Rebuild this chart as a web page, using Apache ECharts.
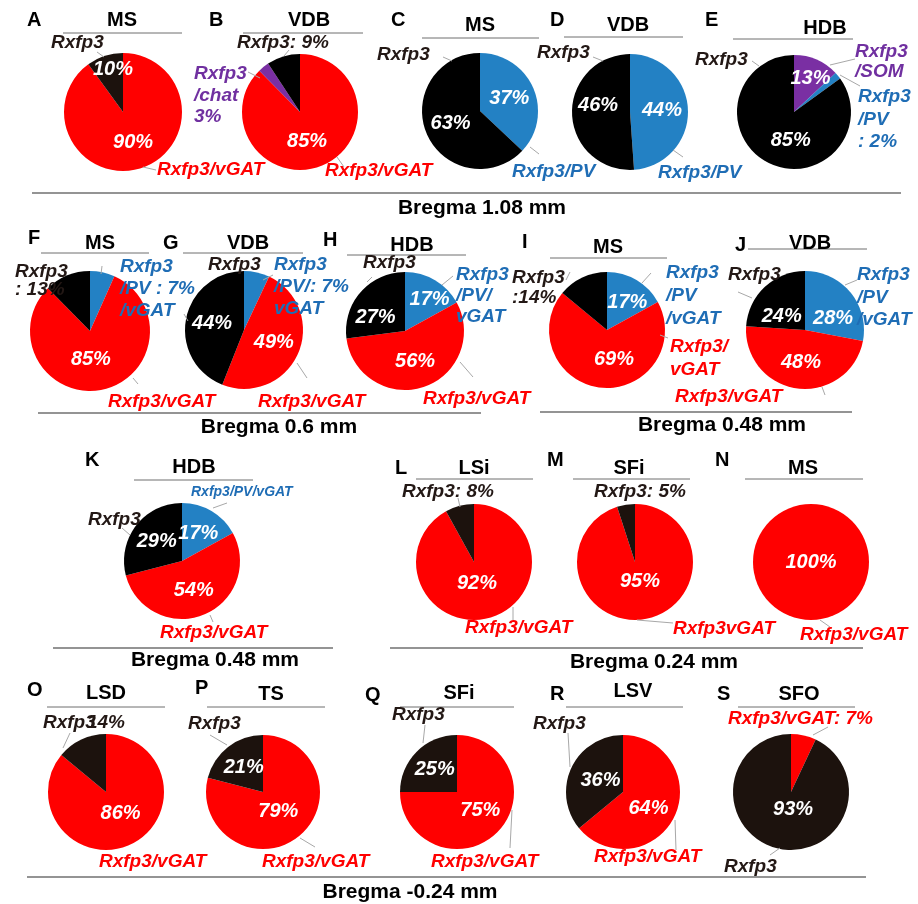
<!DOCTYPE html>
<html>
<head>
<meta charset="utf-8">
<script src="https://cdn.jsdelivr.net/npm/echarts@6/dist/echarts.min.js"></script>
<style>
  html, body { margin: 0; padding: 0; background: #ffffff; }
  #chart { width: 918px; height: 904px; }
</style>
</head>
<body>
<div id="chart"></div>
<script>
// ---- data -------------------------------------------------------------
const panelLetters = ['A','B','C','D','E','F','G','H','I','J','K','L','M','N','O','P','Q','R','S'];
const regionTitles = ['MS','VDB','MS','VDB','HDB','MS','VDB','HDB','MS','VDB','HDB','LSi','SFi','MS','LSD','TS','SFi','LSV','SFO'];
const sliceNames = [
  ['Rxfp3/vGAT','Rxfp3'],
  ['Rxfp3/vGAT','Rxfp3/chat','Rxfp3'],
  ['Rxfp3/PV','Rxfp3'],
  ['Rxfp3/PV','Rxfp3'],
  ['Rxfp3/SOM','Rxfp3/PV','Rxfp3'],
  ['Rxfp3/PV/vGAT','Rxfp3/vGAT','Rxfp3'],
  ['Rxfp3/PV/vGAT','Rxfp3/vGAT','Rxfp3'],
  ['Rxfp3/PV/vGAT','Rxfp3/vGAT','Rxfp3'],
  ['Rxfp3/PV/vGAT','Rxfp3/vGAT','Rxfp3'],
  ['Rxfp3/PV/vGAT','Rxfp3/vGAT','Rxfp3'],
  ['Rxfp3/PV/vGAT','Rxfp3/vGAT','Rxfp3'],
  ['Rxfp3/vGAT','Rxfp3'],
  ['Rxfp3/vGAT','Rxfp3'],
  ['Rxfp3/vGAT'],
  ['Rxfp3/vGAT','Rxfp3'],
  ['Rxfp3/vGAT','Rxfp3'],
  ['Rxfp3/vGAT','Rxfp3'],
  ['Rxfp3/vGAT','Rxfp3'],
  ['Rxfp3/vGAT','Rxfp3']
];
const pieValues = [
  [90, 10],
  [85, 3, 9],
  [37, 63],
  [44, 46],
  [13, 2, 85],
  [7, 85, 13],
  [7, 49, 44],
  [17, 56, 27],
  [17, 69, 14],
  [28, 48, 24],
  [17, 54, 29],
  [92, 8],
  [95, 5],
  [100],
  [86, 14],
  [79, 21],
  [75, 25],
  [64, 36],
  [7, 93]
];
const bregmaLabels = ['Bregma 1.08 mm','Bregma 0.6 mm','Bregma 0.48 mm','Bregma 0.48 mm','Bregma 0.24 mm','Bregma -0.24 mm'];

// ---- styling ----------------------------------------------------------
const FONT = '"Liberation Sans", Arial, Helvetica, sans-serif';
const RED = '#ff0000', BLUE = '#2381c4', PURPLE = '#7a2fa3', BLACK = '#000000', BROWN = '#1c120d';
const TEXT_DARK = '#231815', TEXT_BLUE = '#1f6db5', TEXT_PURPLE = '#7030a0';

function sliceColor(name, dark) {
  if (name === 'Rxfp3') return dark;
  if (name === 'Rxfp3/vGAT') return RED;
  if (name.indexOf('PV') >= 0) return BLUE;
  return PURPLE;
}
function textColor(name) {
  if (name === 'Rxfp3') return TEXT_DARK;
  if (name === 'Rxfp3/vGAT') return RED;
  if (name.indexOf('PV') >= 0) return TEXT_BLUE;
  return TEXT_PURPLE;
}

// pie placement: centre, radius, tone of the Rxfp3-only slice
const pieLayout = [
  { c: [123, 112], r: 59, dark: BROWN },
  { c: [300, 112], r: 58, dark: BLACK },
  { c: [480, 111], r: 58, dark: BLACK },
  { c: [630, 112], r: 58, dark: BLACK },
  { c: [794, 112], r: 57, dark: BLACK },
  { c: [90, 331],  r: 60, dark: BLACK },
  { c: [244, 330], r: 59, dark: BLACK },
  { c: [405, 331], r: 59, dark: BLACK },
  { c: [607, 330], r: 58, dark: BLACK },
  { c: [805, 330], r: 59, dark: BLACK },
  { c: [182, 561], r: 58, dark: BLACK },
  { c: [474, 562], r: 58, dark: BROWN },
  { c: [635, 562], r: 58, dark: BROWN },
  { c: [811, 562], r: 58, dark: BROWN },
  { c: [106, 792], r: 58, dark: BROWN },
  { c: [263, 792], r: 57, dark: BROWN },
  { c: [457, 792], r: 57, dark: BROWN },
  { c: [623, 792], r: 57, dark: BROWN },
  { c: [791, 792], r: 58, dark: BROWN }
];
// which slices carry a percentage inside the pie
const insideShown = [[0,1],[0],[0,1],[0,1],[0,2],[1],[1,2],[0,1,2],[0,1],[0,1,2],[0,1,2],[0],[0],[0],[0],[0,1],[0,1],[0,1],[1]];
// small shifts of inside percentages away from the default half-radius spot: {pie: {slice: [dx, dy]}}
const insideNudge = {
  0: { 1: [0, -12] },
  1: { 0: [-5, 0] },
  3: { 1: [0, -8] },
  4: { 0: [4, -5], 2: [11, 0] },
  5: { 1: [-5, -4] },
  7: { 0: [8, -4], 2: [-5, 8] },
  8: { 0: [4, 0], 1: [10, -2] },
  9: { 0: [3, 9], 2: [-1, 10] },
  11: { 0: [-5, -10] },
  12: { 0: [0, -12] },
  14: { 0: [1, -7] },
  15: { 0: [-4, -5] },
  16: { 0: [1, -4] },
  17: { 0: [-3, 3], 1: [6, 2] },
  18: { 1: [9, -14] }
};

// panel letter [x, y], region title [x, y], title rule [x1, x2, y]
const letterPos = [[27,20],[209,20],[391,20],[550,20],[705,20],[28,238],[163,243],[323,240],[522,242],[735,245],
  [85,460],[395,468],[547,460],[715,460],[27,690],[195,688],[365,695],[550,694],[717,694]];
const titlePos = [[122,20],[309,20],[480,25],[628,25],[825,28],[100,243],[248,243],[412,245],[608,247],[810,243],
  [194,467],[474,468],[629,468],[803,468],[106,693],[271,694],[459,693],[633,691],[799,694]];
const titleRule = [[63,182,33],[243,363,33],[422,539,38],[564,683,37],[733,853,39],[41,149,253],[183,303,253],[347,466,255],
  [550,667,258],[748,867,249],[134,253,480],[416,533,479],[573,690,479],[745,863,479],[47,165,707],[207,325,707],
  [400,514,707],[566,683,707],[738,855,707]];
// section rule [x1, x2, y] and caption centre [x, y]
const sectionRule = [[32,901,193],[38,481,413],[540,852,412],[53,333,648],[390,863,648],[27,866,877]];
const sectionText = [[482,208],[279,427],[722,425],[215,660],[654,662],[410,892]];

// outer labels: [pie, slice, text ({v} = slice value), x, first-line centre y, line height, font size, align]
const outerLabels = [
  [0, 1, 'Rxfp3', 51, 43],
  [0, 0, 'Rxfp3/vGAT', 157, 170],
  [1, 2, 'Rxfp3: {v}%', 237, 43],
  [1, 1, 'Rxfp3\n/chat\n{v}%', 194, 74, 21.5],
  [1, 0, 'Rxfp3/vGAT', 325, 171],
  [2, 1, 'Rxfp3', 377, 55],
  [2, 0, 'Rxfp3/PV', 512, 172],
  [3, 1, 'Rxfp3', 537, 53],
  [3, 0, 'Rxfp3/PV', 658, 173],
  [4, 2, 'Rxfp3', 695, 60],
  [4, 0, 'Rxfp3\n/SOM', 855, 52, 20],
  [4, 1, 'Rxfp3\n/PV\n: {v}%', 858, 97, 22.5],
  [5, 2, 'Rxfp3\n: {v}%', 15, 272, 18],
  [5, 0, 'Rxfp3\n/PV : {v}%\n/vGAT', 120, 267, 22],
  [5, 1, 'Rxfp3/vGAT', 108, 402],
  [6, 2, 'Rxfp3', 208, 265],
  [6, 0, 'Rxfp3\n/PV/: {v}%\nvGAT', 274, 265, 22],
  [6, 1, 'Rxfp3/vGAT', 258, 402],
  [7, 2, 'Rxfp3', 363, 263],
  [7, 0, 'Rxfp3\n/PV/\nvGAT', 456, 275, 21],
  [7, 1, 'Rxfp3/vGAT', 423, 399],
  [8, 2, 'Rxfp3\n:{v}%', 512, 278, 20],
  [8, 0, 'Rxfp3\n/PV\n/vGAT', 666, 273, 23],
  [8, 1, 'Rxfp3/\nvGAT', 670, 347, 23],
  [9, 2, 'Rxfp3', 728, 275],
  [9, 0, 'Rxfp3\n/PV\n/vGAT', 857, 275, 22.5],
  [9, 1, 'Rxfp3/vGAT', 675, 397],
  [10, 2, 'Rxfp3', 88, 520],
  [10, 0, 'Rxfp3/PV/vGAT', 191, 492, 0, 14],
  [10, 1, 'Rxfp3/vGAT', 160, 633],
  [11, 1, 'Rxfp3: {v}%', 402, 492],
  [11, 0, 'Rxfp3/vGAT', 465, 628],
  [12, 1, 'Rxfp3: {v}%', 594, 492],
  [12, 0, 'Rxfp3vGAT', 673, 629],
  [13, 0, 'Rxfp3/vGAT', 800, 635],
  [14, 1, 'Rxfp3', 43, 723],
  [14, 1, '{v}%', 125, 723, 0, 19, 'right'],
  [14, 0, 'Rxfp3/vGAT', 99, 862],
  [15, 1, 'Rxfp3', 188, 724],
  [15, 0, 'Rxfp3/vGAT', 262, 862],
  [16, 1, 'Rxfp3', 392, 715],
  [16, 0, 'Rxfp3/vGAT', 431, 862],
  [17, 1, 'Rxfp3', 533, 724],
  [17, 0, 'Rxfp3/vGAT', 594, 857],
  [18, 0, 'Rxfp3/vGAT: {v}%', 728, 719],
  [18, 1, 'Rxfp3', 724, 867]
];
// thin grey leader lines [x1, y1, x2, y2]
const leaderLines = [
  [97,52,104,57],[143,167,156,170],[289,50,284,56],[248,72,260,78],[337,157,344,167],
  [443,57,452,61],[530,147,539,154],[593,57,603,61],[673,150,683,157],
  [752,61,759,66],[830,65,855,59],[840,75,860,86],
  [102,266,101,274],[133,378,138,384],[263,280,273,275],[184,314,188,321],[297,363,307,378],
  [367,282,372,277],[442,285,453,276],[460,362,473,377],
  [570,272,566,280],[642,283,651,273],[660,335,668,338],
  [738,292,752,298],[845,285,857,280],[822,387,825,395],
  [122,528,130,535],[213,508,227,503],[210,615,213,622],
  [458,498,460,507],[513,607,513,620],[637,620,673,623],[820,620,830,627],
  [70,733,63,748],[210,735,227,745],[300,838,315,847],[425,725,423,743],[512,810,510,848],
  [568,733,570,767],[675,820,676,850],[813,735,828,727],[780,848,770,855]
];

// ---- build ------------------------------------------------------------
const series = pieValues.map((vals, p) => ({
  type: 'pie',
  center: pieLayout[p].c,
  radius: pieLayout[p].r,
  startAngle: 90,
  clockwise: true,
  silent: true,
  animation: false,
  avoidLabelOverlap: false,
  labelLine: { show: false },
  itemStyle: { borderWidth: 0 },
  label: {
    show: true,
    position: vals.length === 1 ? 'center' : 'inside',
    formatter: '{c}%',
    color: '#ffffff',
    fontSize: 20,
    fontWeight: 'bold',
    fontStyle: 'italic',
    fontFamily: FONT
  },
  labelLayout: function (params) {
    const n = (insideNudge[p] || {})[params.dataIndex];
    return n ? { dx: n[0], dy: n[1] } : {};
  },
  data: vals.map((v, i) => ({
    value: v,
    name: sliceNames[p][i],
    itemStyle: { color: sliceColor(sliceNames[p][i], pieLayout[p].dark) },
    label: { show: insideShown[p].indexOf(i) >= 0 }
  }))
}));

const graphic = [];
function addText(text, x, y, font, fill, align, vAlign, lh) {
  const style = { text, x, y, font, fill, textAlign: align, textVerticalAlign: vAlign };
  if (lh) style.lineHeight = lh;
  graphic.push({ type: 'text', silent: true, z: 100, style });
}
function addLine(x1, y1, x2, y2, stroke, w) {
  graphic.push({ type: 'line', silent: true, z: 90, shape: { x1, y1, x2, y2 }, style: { stroke, lineWidth: w } });
}

panelLetters.forEach((L, i) => {
  addText(L, letterPos[i][0], letterPos[i][1], 'bold 20px ' + FONT, '#000', 'left', 'middle');
  addText(regionTitles[i], titlePos[i][0], titlePos[i][1], 'bold 20px ' + FONT, '#000', 'center', 'middle');
  addLine(titleRule[i][0], titleRule[i][2], titleRule[i][1], titleRule[i][2], '#6e6e6e', 1);
});
bregmaLabels.forEach((t, i) => {
  addLine(sectionRule[i][0], sectionRule[i][2], sectionRule[i][1], sectionRule[i][2], '#707070', 1.6);
  addText(t, sectionText[i][0], sectionText[i][1], 'bold 21px ' + FONT, '#000', 'center', 'middle');
});
leaderLines.forEach(l => addLine(l[0], l[1], l[2], l[3], '#a8a8a8', 1));
outerLabels.forEach(o => {
  const [p, s, tpl, x, y, lh, size, align] = o;
  const text = tpl.replace('{v}', pieValues[p][s]);
  const font = 'italic bold ' + (size || 19) + 'px ' + FONT;
  const fill = textColor(sliceNames[p][s]);
  if (lh) addText(text, x, y - lh / 2, font, fill, align || 'left', 'top', lh);
  else addText(text, x, y, font, fill, align || 'left', 'middle');
});

const chart = echarts.init(document.getElementById('chart'), null, { renderer: 'canvas' });
chart.setOption({
  backgroundColor: '#ffffff',
  animation: false,
  series,
  graphic
});
</script>
</body>
</html>
